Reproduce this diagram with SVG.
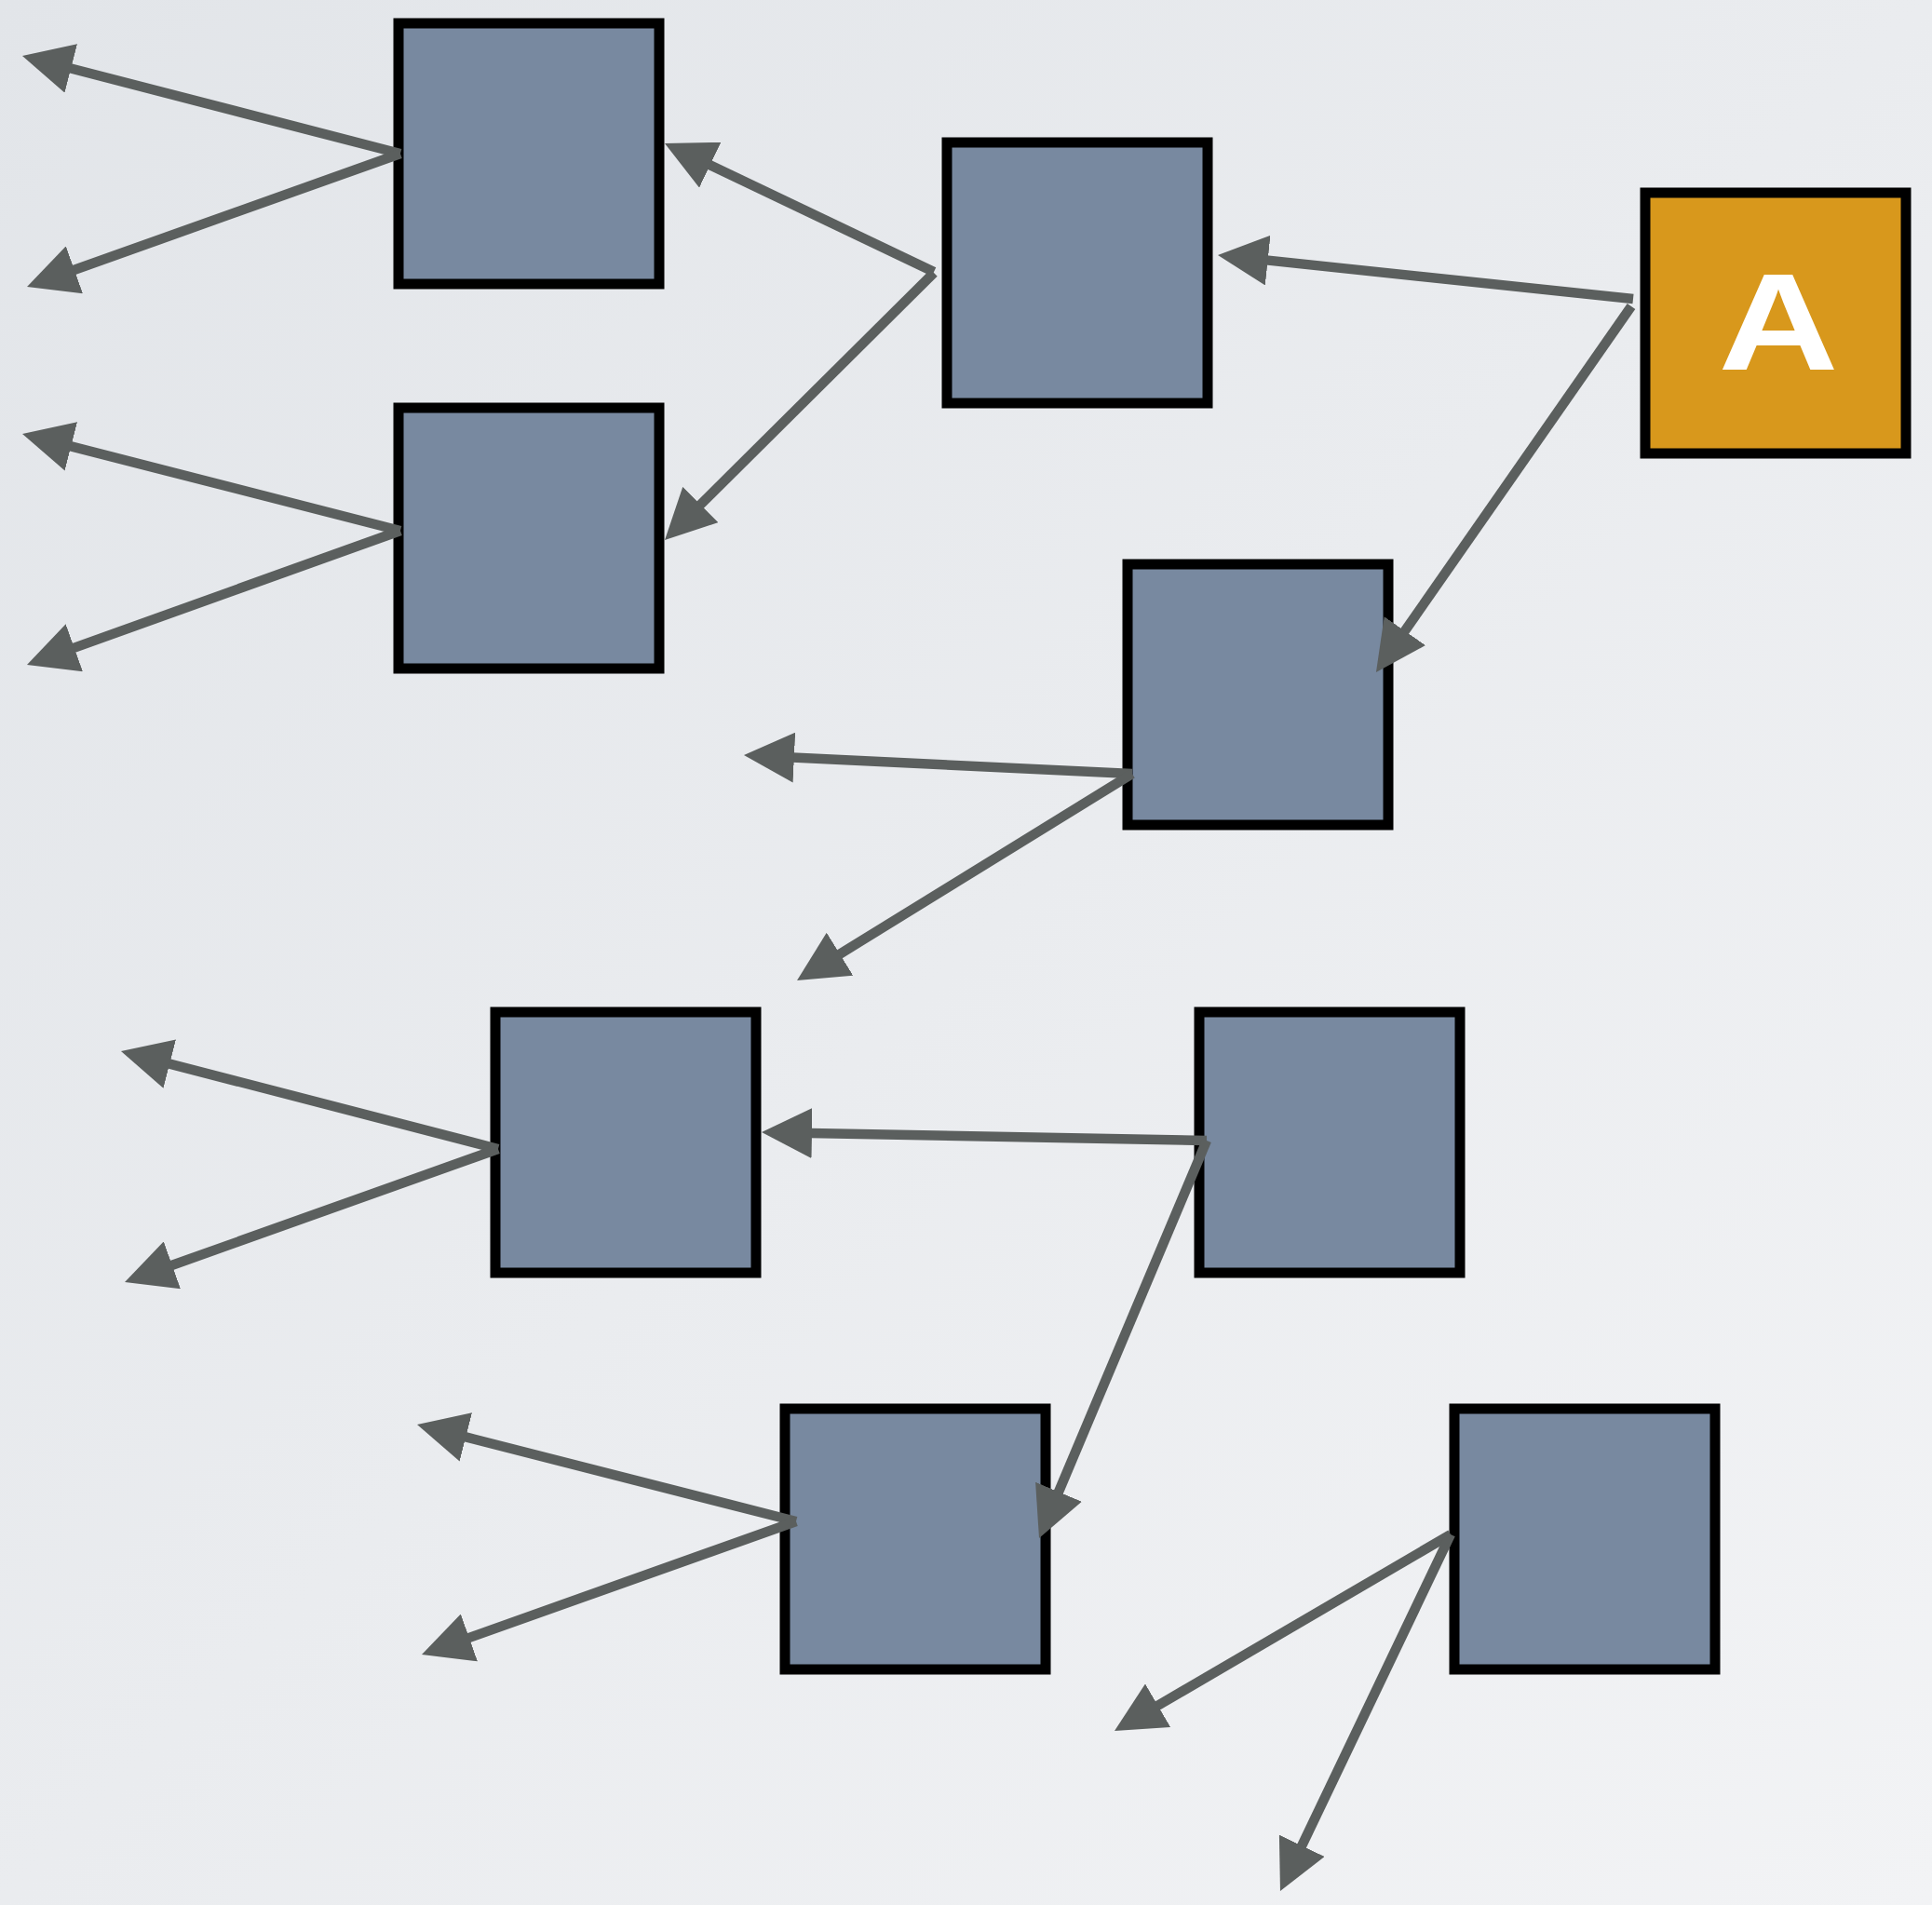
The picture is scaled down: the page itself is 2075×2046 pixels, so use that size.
<svg xmlns="http://www.w3.org/2000/svg" width="2075" height="2046" viewBox="0 0 2075 2046">
<defs>
<linearGradient id="bg" x1="0" y1="0" x2="1" y2="1">
<stop offset="0" stop-color="#e2e5e9"/>
<stop offset="1" stop-color="#f2f3f5"/>
</linearGradient>
<marker id="ah" markerUnits="userSpaceOnUse" viewBox="0 -27 54 54" markerWidth="54" markerHeight="54" refX="2" refY="0" orient="auto">
<path d="M0,-27 L54,0 L0,27 Z" fill="#5b5f5e"/>
</marker>
</defs>
<style>
.node{fill:#7889a0;stroke:#000;stroke-width:11}
.start{fill:#d8981c;stroke:#000;stroke-width:11}
.edge{fill:none;stroke:#5b5f5e;stroke-width:10.5;marker-end:url(#ah)}
.lbl{fill:#fff;font-family:"Liberation Sans",Arial,sans-serif;font-weight:bold;font-size:149px}
</style>
<rect x="0" y="0" width="2075" height="2046" fill="url(#bg)"/>
<g id="nodes">
<g id="n1"><rect class="node" x="428" y="25" width="280" height="280"/></g>
<g id="n2"><rect class="node" x="428" y="438" width="280" height="280"/></g>
<g id="n3"><rect class="node" x="1017" y="153" width="280" height="280"/></g>
<g id="nA"><rect class="start" x="1767" y="207" width="280" height="280"/><text class="lbl" x="1910" y="397" text-anchor="middle" textLength="129" lengthAdjust="spacingAndGlyphs">A</text></g>
<g id="n4"><rect class="node" x="1211" y="606" width="280" height="280"/></g>
<g id="n5"><rect class="node" x="532" y="1087" width="280" height="280"/></g>
<g id="n6"><rect class="node" x="1288" y="1087" width="280" height="280"/></g>
<g id="n7"><rect class="node" x="843" y="1513" width="280" height="280"/></g>
<g id="n8"><rect class="node" x="1562" y="1513" width="280" height="280"/></g>
</g>
<g id="connectors">
<line class="edge" x1="430" y1="165" x2="74.3" y2="73"/>
<line class="edge" x1="430" y1="165" x2="78" y2="290.5"/>
<line class="edge" x1="430" y1="570" x2="74.4" y2="478.9"/>
<line class="edge" x1="430" y1="570" x2="77.9" y2="696.4"/>
<line class="edge" x1="1003" y1="292" x2="760.9" y2="176.4"/>
<line class="edge" x1="1003" y1="293" x2="750.9" y2="543.4"/>
<line class="edge" x1="1754" y1="321" x2="1359.7" y2="279.4"/>
<line class="edge" x1="1752" y1="329" x2="1507.7" y2="679.3"/>
<line class="edge" x1="1216" y1="831" x2="850.9" y2="813.5"/>
<line class="edge" x1="1216" y1="831" x2="900.3" y2="1025.7"/>
<line class="edge" x1="535" y1="1234" x2="180.3" y2="1142.1"/>
<line class="edge" x1="535" y1="1234" x2="183" y2="1359.5"/>
<line class="edge" x1="1296" y1="1225" x2="870" y2="1217"/>
<line class="edge" x1="1296" y1="1225" x2="1136.2" y2="1604.1"/>
<line class="edge" x1="855" y1="1634" x2="498.4" y2="1542.9"/>
<line class="edge" x1="855" y1="1634" x2="502" y2="1759.6"/>
<line class="edge" x1="1558" y1="1648" x2="1241.9" y2="1832.8"/>
<line class="edge" x1="1558" y1="1648" x2="1397.4" y2="1984.1"/>
</g>
</svg>
